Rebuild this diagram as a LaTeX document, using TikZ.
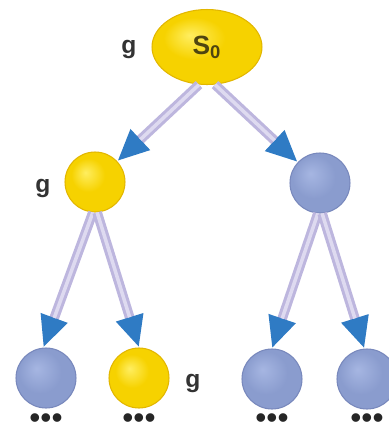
\documentclass[tikz,border=0pt]{standalone}
\usepackage{fontspec}
\setmainfont{Liberation Sans}
\usetikzlibrary{arrows.meta,shapes.geometric}
\definecolor{ybase}{HTML}{F6D200}
\definecolor{ylight}{HTML}{FFEE60}
\definecolor{yedge}{HTML}{E2B600}
\definecolor{bbase}{HTML}{8A9CCE}
\definecolor{blight}{HTML}{A6B6E2}
\definecolor{bedge}{HTML}{7888BC}
\definecolor{lav}{HTML}{BDB6DE}
\definecolor{lavlight}{HTML}{DEDAF0}
\definecolor{tipblue}{HTML}{2F7BC4}
\definecolor{olive}{HTML}{4E4510}
\definecolor{glabc}{HTML}{333333}
\pgfdeclareradialshading{yball}{\pgfpoint{-8bp}{8bp}}{color(0bp)=(ylight); color(14bp)=(ybase); color(50bp)=(ybase)}
\pgfdeclareradialshading{bball}{\pgfpoint{-8bp}{8bp}}{color(0bp)=(blight); color(18bp)=(bbase); color(50bp)=(bbase)}
\begin{document}
\begin{tikzpicture}[x=0.02cm,y=-0.02cm,
  ynode/.style={circle, minimum size=1.2cm, inner sep=0pt, shading=yball, draw=yedge, line width=0.6pt},
  bnode/.style={circle, minimum size=1.2cm, inner sep=0pt, shading=bball, draw=bedge, line width=0.6pt},
  glab/.style={font=\fontsize{14}{14}\selectfont\bfseries, text=glabc, inner sep=0pt},
  dots/.style={font=\fontsize{18}{18}\selectfont, inner sep=0pt, text=black!85},
  conn/.style={line width=5.5pt, draw=lav,
    -{Triangle[width=15pt,length=18pt,color=tipblue,fill=tipblue]},
    postaction={draw=lavlight, line width=2pt, -, shorten >=18pt}}]
\useasboundingbox (0,0) rectangle (389,434);
\node[ellipse, minimum width=2.2cm, minimum height=1.5cm, inner sep=0pt, shading=yball, draw=yedge, line width=0.6pt,
  font=\fontsize{15}{15}\selectfont\bfseries, text=olive] (s0) at (207,47) {S\textsubscript{0}};
\node[ynode] (a) at (95,182) {};
\node[bnode] (b) at (320,183) {};
\node[bnode] (c1) at (46,378) {};
\node[ynode] (c2) at (139,378) {};
\node[bnode] (c3) at (272,379) {};
\node[bnode] (c4) at (367,379) {};
\node[glab] (g0) at (129,49) {g};
\node[glab] (g1) at (43,188) {g};
\node[glab] (g2) at (193,383) {g};
\node[dots] (d1) at (46,421) {•••};
\node[dots] (d2) at (139,421) {•••};
\node[dots] (d3) at (272,421) {•••};
\node[dots] (d4) at (367,421) {•••};
\draw[conn] (s0.258) -- (a);
\draw[conn] (s0.282) -- (b);
\draw[conn] (a.266) -- (c1.95);
\draw[conn] (a.274) -- (c2.north);
\draw[conn] (b.266) -- (c3.north);
\draw[conn] (b.274) -- (c4.95);
\end{tikzpicture}
\end{document}
